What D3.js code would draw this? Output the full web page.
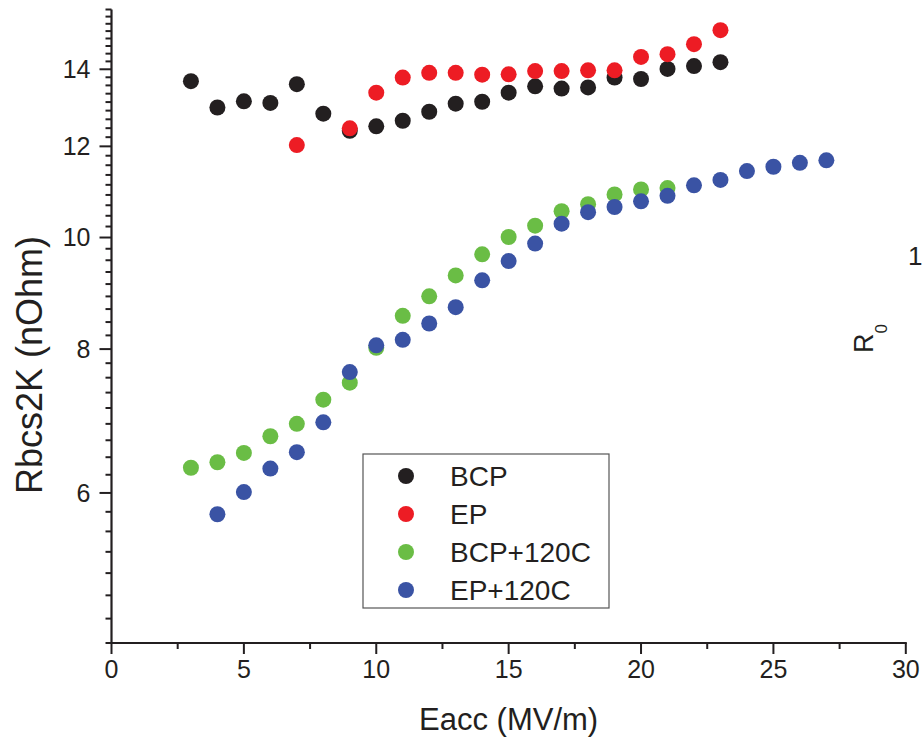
<!DOCTYPE html>
<html>
<head>
<meta charset="utf-8">
<script src="https://cdn.jsdelivr.net/npm/d3@7"></script>
<style>
  html, body { margin: 0; padding: 0; background: #fff; }
  svg { display: block; }
  text { font-family: "Liberation Sans", Arial, sans-serif; fill: #231f20; }
</style>
</head>
<body>
<div id="chart"></div>
<script>
// Eacc values (MV/m) and Rbcs2K values (nOhm)
const bcpE = [3, 4, 5, 6, 7, 8, 9, 10, 11, 12, 13, 14, 15, 16, 17, 18, 19, 20, 21, 22, 23];
const bcpR = [13.67, 12.97, 13.13, 13.09, 13.59, 12.81, 12.38, 12.49, 12.63, 12.86, 13.07, 13.12, 13.36, 13.53, 13.47, 13.50, 13.77, 13.73, 14.01, 14.09, 14.20];

const epE = [7, 9, 10, 11, 12, 13, 14, 15, 16, 17, 18, 19, 20, 21, 22, 23];
const epR = [12.03, 12.44, 13.36, 13.77, 13.90, 13.90, 13.85, 13.86, 13.95, 13.95, 13.97, 13.97, 14.35, 14.43, 14.72, 15.14];

const bcp120E = [3, 4, 5, 6, 7, 8, 9, 10, 11, 12, 13, 14, 15, 16, 17, 18, 19, 20, 21];
const bcp120R = [6.31, 6.38, 6.50, 6.72, 6.89, 7.23, 7.48, 8.02, 8.55, 8.89, 9.27, 9.67, 10.01, 10.24, 10.54, 10.69, 10.90, 11.01, 11.04];

const ep120E = [4, 5, 6, 7, 8, 9, 10, 11, 12, 13, 14, 15, 16, 17, 18, 19, 20, 21, 22, 23, 24, 25, 26, 27];
const ep120R = [5.75, 6.01, 6.30, 6.51, 6.91, 7.64, 8.06, 8.15, 8.42, 8.70, 9.18, 9.54, 9.88, 10.28, 10.52, 10.63, 10.75, 10.87, 11.10, 11.22, 11.42, 11.52, 11.61, 11.67];

const seriesNames = ["BCP", "EP", "BCP+120C", "EP+120C"];
const seriesColors = ["#231f20", "#ed1c24", "#6abd45", "#3a53a4"];

const xTicks = [0, 5, 10, 15, 20, 25, 30];
const xMinorTicks = [2.5, 7.5, 12.5, 17.5, 22.5, 27.5];
const yTicks = [6, 8, 10, 12, 14];
const yMinorStep = 2 / 9;
const yMin = 6 - 7 * yMinorStep, yMax = 14 + 8 * yMinorStep;

const width = 922, height = 748;
const ink = "#231f20";

const svg = d3.select("#chart").append("svg")
  .attr("width", width)
  .attr("height", height);

const x = d3.scaleLinear().domain([0, 30]).range([111.5, 905.8]);
const y = d3.scaleLog().domain([yMin, yMax]).range([643, 9.5]);

// x axis
const xAxis = svg.append("g").attr("transform", "translate(0,643)");
xAxis.append("line").attr("x1", x(0) - 1).attr("x2", x(30) + 1)
  .attr("stroke", ink).attr("stroke-width", 2.2);
xAxis.selectAll(".xmaj").data(xTicks).enter().append("line")
  .attr("x1", d => x(d)).attr("x2", d => x(d)).attr("y1", 0).attr("y2", 11)
  .attr("stroke", ink).attr("stroke-width", 2);
xAxis.selectAll(".xmin").data(xMinorTicks).enter().append("line")
  .attr("x1", d => x(d)).attr("x2", d => x(d)).attr("y1", 0).attr("y2", 6)
  .attr("stroke", ink).attr("stroke-width", 2);
xAxis.selectAll(".xlab").data(xTicks).enter().append("text")
  .attr("x", d => x(d)).attr("y", 35)
  .attr("text-anchor", "middle").attr("font-size", 25)
  .text(d => d);

// y axis
const yAxis = svg.append("g").attr("transform", "translate(" + x(0) + ",0)");
yAxis.append("line").attr("y1", y(yMax)).attr("y2", 644)
  .attr("stroke", ink).attr("stroke-width", 2.2);
const yMinor = d3.range(0, 52).map(i => yMin + i * yMinorStep)
  .filter(v => v <= yMax + 1e-6 && !yTicks.some(t => Math.abs(t - v) < 1e-6));
yAxis.selectAll(".ymin").data(yMinor).enter().append("line")
  .attr("x1", -6).attr("x2", 0).attr("y1", d => y(d)).attr("y2", d => y(d))
  .attr("stroke", ink).attr("stroke-width", 2);
yAxis.selectAll(".ymaj").data(yTicks).enter().append("line")
  .attr("x1", -12).attr("x2", 0).attr("y1", d => y(d)).attr("y2", d => y(d))
  .attr("stroke", ink).attr("stroke-width", 2);
yAxis.selectAll(".ylab").data(yTicks).enter().append("text")
  .attr("x", -21).attr("y", d => y(d)).attr("dy", "0.35em")
  .attr("text-anchor", "end").attr("font-size", 25)
  .text(d => d);

// axis titles
svg.append("text").attr("x", x(15)).attr("y", 730)
  .attr("text-anchor", "middle").attr("font-size", 31)
  .text("Eacc (MV/m)");
svg.append("text")
  .attr("transform", "translate(42," + 365 + ") rotate(-90)")
  .attr("text-anchor", "middle").attr("font-size", 36)
  .text("Rbcs2K (nOhm)");

// points
const series = [
  { e: bcpE, r: bcpR },
  { e: epE, r: epR },
  { e: bcp120E, r: bcp120R },
  { e: ep120E, r: ep120R }
];
series.forEach(function (s, i) {
  svg.append("g").selectAll("circle")
    .data(s.e.map((e, j) => [e, s.r[j]]))
    .enter().append("circle")
    .attr("cx", d => x(d[0]))
    .attr("cy", d => y(d[1]))
    .attr("r", 8)
    .attr("fill", seriesColors[i]);
});

// legend
const legend = svg.append("g").attr("transform", "translate(363,454)");
legend.append("rect").attr("width", 246).attr("height", 154)
  .attr("fill", "none").attr("stroke", "#555").attr("stroke-width", 1.2);
const item = legend.selectAll(".item").data(seriesNames).enter().append("g")
  .attr("transform", (d, i) => "translate(0," + (22 + i * 38) + ")");
item.append("circle").attr("cx", 43).attr("cy", 0).attr("r", 8)
  .attr("fill", (d, i) => seriesColors[i]);
item.append("text").attr("x", 87).attr("y", 0).attr("dy", "0.36em")
  .attr("font-size", 28).text(d => d);

// clipped label of the neighbouring panel
svg.append("text").attr("x", 908).attr("y", 265).attr("font-size", 26).text("1");
const r0 = svg.append("text")
  .attr("transform", "translate(873,353) rotate(-90)")
  .attr("font-size", 27);
r0.append("tspan").text("R");
r0.append("tspan").attr("font-size", 17).attr("dy", 14).text("0");
</script>
</body>
</html>
